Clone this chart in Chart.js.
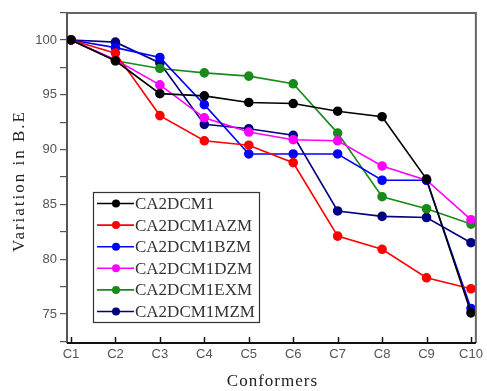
<!DOCTYPE html>
<html>
<head>
<meta charset="utf-8">
<script src="https://cdn.jsdelivr.net/npm/chart.js@4"></script>
<style>
  html, body { margin: 0; padding: 0; background: #fff; }
  #wrap { width: 487px; height: 391px; }
</style>
</head>
<body>
<div id="wrap"><canvas id="chart-1"></canvas></div>
<script>
// categories on the x axis
const conformers = ["C1", "C2", "C3", "C4", "C5", "C6", "C7", "C8", "C9", "C10"];

// series values
const ca2dcm1 = [100, 98.1, 95.1, 94.9, 94.3, 94.2, 93.5, 93.0, 87.3, 75.1];
const ca2dcm1azm = [100, 98.8, 93.1, 90.8, 90.4, 88.8, 82.1, 80.9, 78.3, 77.3];
const ca2dcm1bzm = [100, 99.3, 98.4, 94.1, 89.6, 89.6, 89.6, 87.2, 87.2, 75.5];
const ca2dcm1dzm = [100, 98.2, 95.9, 92.9, 91.6, 90.9, 90.8, 88.5, 87.2, 83.6];
const ca2dcm1exm = [100, 98.1, 97.4, 97.0, 96.7, 96.0, 91.5, 85.7, 84.6, 83.2];
const ca2dcm1mzm = [100, 99.8, 97.9, 92.3, 91.9, 91.3, 84.4, 83.9, 83.8, 81.5];

// y tick labels (major) - minor ticks sit halfway between
const yTickLabels = [75, 80, 85, 90, 95, 100];

const seriesNames = ["CA2DCM1", "CA2DCM1AZM", "CA2DCM1BZM", "CA2DCM1DZM", "CA2DCM1EXM", "CA2DCM1MZM"];
const seriesValues = [ca2dcm1, ca2dcm1azm, ca2dcm1bzm, ca2dcm1dzm, ca2dcm1exm, ca2dcm1mzm];
const seriesColors = ["#000000", "#ff0000", "#0000ff", "#ff00ff", "#1a8a1a", "#000080"];

const serif = '"Liberation Serif", "Times New Roman", serif';
const narrow = '"Liberation Sans Narrow", "Liberation Sans", Arial, sans-serif';

let datasets = seriesNames.map((name, i) => ({
  label: name,
  data: seriesValues[i].map((v, j) => ({ x: j, y: v })),
  borderColor: seriesColors[i],
  backgroundColor: seriesColors[i],
  borderWidth: 1.6,
  pointRadius: 4,
  pointHoverRadius: 4,
  tension: 0,
  fill: false,
}));

// frame, inward x ticks, axis titles (letter spaced) and the boxed legend
const decorations = {
  id: "decorations",
  afterDraw(chart) {
    const ctx = chart.ctx;
    const a = chart.chartArea;
    const xs = chart.scales.x;
    ctx.save();
    // top + right frame
    ctx.strokeStyle = "#666";
    ctx.lineWidth = 2;
    ctx.beginPath();
    ctx.moveTo(a.left, a.top);
    ctx.lineTo(a.right, a.top);
    ctx.lineTo(a.right, a.bottom);
    ctx.stroke();
    // bottom axis
    ctx.strokeStyle = "#111";
    ctx.lineWidth = 2;
    ctx.beginPath();
    ctx.moveTo(a.left, a.bottom);
    ctx.lineTo(a.right, a.bottom);
    ctx.stroke();
    // inward ticks on x
    ctx.lineWidth = 1.5;
    conformers.forEach((c, i) => {
      const px = Math.round(xs.getPixelForValue(i)) + 0.5;
      ctx.beginPath();
      ctx.moveTo(px, a.bottom);
      ctx.lineTo(px, a.bottom - 6);
      ctx.stroke();
    });

    // axis titles
    ctx.fillStyle = "#222";
    ctx.font = "17px " + serif;
    ctx.textAlign = "center";
    ctx.textBaseline = "middle";
    ctx.letterSpacing = "1px";
    ctx.fillText("Conformers", (a.left + a.right) / 2 + 1, 382);
    ctx.save();
    ctx.translate(20, (a.top + a.bottom) / 2 + 3);
    ctx.rotate(-Math.PI / 2);
    ctx.letterSpacing = "2px";
    ctx.fillText("Variation in B.E", 0, 0);
    ctx.restore();
    ctx.letterSpacing = "0px";

    // legend box
    const bx = a.left + 26, by = a.top + 179, bw = 166, bh = 130;
    ctx.fillStyle = "#fff";
    ctx.fillRect(bx, by, bw, bh);
    ctx.strokeStyle = "#333";
    ctx.lineWidth = 1.2;
    ctx.strokeRect(bx + 0.5, by + 0.5, bw, bh);
    ctx.font = "17px " + serif;
    ctx.textBaseline = "middle";
    ctx.textAlign = "left";
    seriesNames.forEach((name, i) => {
      const ry = by + 11.5 + i * 21.6;
      ctx.strokeStyle = seriesColors[i];
      ctx.fillStyle = seriesColors[i];
      ctx.lineWidth = 1.6;
      ctx.beginPath();
      ctx.moveTo(bx + 4, ry);
      ctx.lineTo(bx + 41, ry);
      ctx.stroke();
      ctx.beginPath();
      ctx.arc(bx + 23, ry, 4, 0, Math.PI * 2);
      ctx.fill();
      ctx.fillStyle = "#333";
      ctx.fillText(name, bx + 42, ry + 1);
    });
    ctx.restore();
  },
};

const ctx1 = document.getElementById("chart-1");
const myChart1 = new Chart(ctx1, {
  type: "line",
  data: { datasets: datasets },
  options: {
    responsive: true,
    maintainAspectRatio: false,
    animation: false,
    layout: { padding: { top: 13, right: 8, left: 0, bottom: 0 } },
    scales: {
      x: {
        type: "linear",
        min: -0.09,
        max: 9.11,
        afterBuildTicks: (scale) => {
          scale.ticks = conformers.map((c, i) => ({ value: i }));
        },
        afterFit: (scale) => {
          scale.height = 48;
        },
        grid: { display: false, drawTicks: false },
        border: { display: false },
        ticks: {
          padding: 4,
          color: "#555",
          font: { size: 13, family: narrow },
          callback: (v) => conformers[v],
          maxRotation: 0,
          autoSkip: false,
        },
      },
      y: {
        min: 72.35,
        max: 102.46,
        afterBuildTicks: (scale) => {
          let t = [];
          for (let v = 72.5; v <= 102.5; v += 2.5) t.push({ value: v });
          scale.ticks = t;
        },
        afterFit: (scale) => {
          scale.width = 67;
        },
        grid: { drawOnChartArea: false, tickLength: 7, color: "#555", lineWidth: 1.2 },
        border: { color: "#555", width: 2 },
        ticks: {
          padding: 3,
          color: "#555",
          font: { size: 13, family: narrow },
          callback: (v) => (yTickLabels.includes(v) ? String(v) : ""),
        },
      },
    },
    plugins: {
      legend: { display: false },
      tooltip: { enabled: false },
    },
  },
  plugins: [decorations],
});
</script>
</body>
</html>
